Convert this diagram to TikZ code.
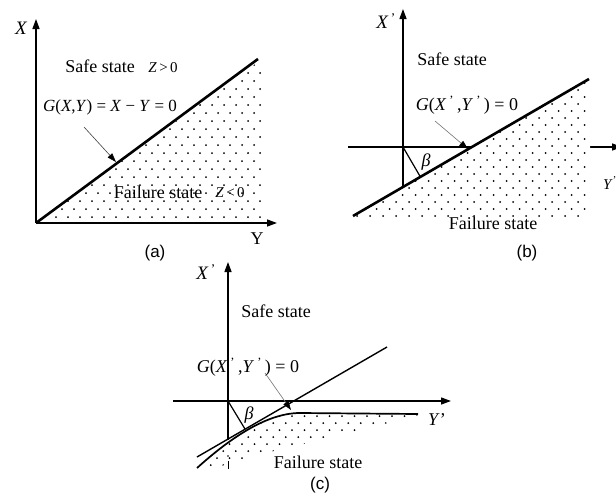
\documentclass[tikz,border=0pt]{standalone}
\usepackage{fontspec}
\setmainfont{Liberation Serif}
\newfontfamily\capfont{Liberation Sans}
\usetikzlibrary{arrows.meta}
\begin{document}
\begin{tikzpicture}[x=1pt,y=-1pt,
  axis/.style={line width=1.3pt,-{Triangle[length=10pt,width=7pt]}},
  bound/.style={line width=2.6pt},
  thinln/.style={line width=1.2pt},
  lead/.style={line width=0.6pt,draw=black!55,-{Triangle[length=9pt,width=6pt,color=black]}},
  lbl/.style={font=\fontsize{18}{20}\selectfont,inner sep=0pt},
  glbl/.style={font=\fontsize{17}{20}\selectfont,inner sep=0pt},
  zlbl/.style={font=\fontsize{15}{18}\selectfont,inner sep=0pt},
  captxt/.style={font=\capfont\fontsize{17}{20}\selectfont,inner sep=0pt},
  dot/.style={fill=black}
]
\useasboundingbox (0,0) rectangle (616,498);

% ---------------- panel (a) ----------------
\coordinate (aO) at (36,223);
\coordinate (aXt) at (36,19);
\coordinate (aYt) at (277,223);
\coordinate (aE) at (258,59);
\begin{scope}
  \clip (40,220) -- (258,62) -- (262,62) -- (262,220) -- cycle;
  \foreach \j in {0,...,21} \foreach \i in {0,...,19}
    \fill[dot] ({44+12*\i+6*mod(\j,2)},{217-8*\j}) circle[radius=1pt];
\end{scope}
\draw[axis] (aO) -- (aXt);
\draw[axis] (aO) -- (aYt);
\draw[bound] (aO) -- (aE);
\coordinate (aLs) at (84,127);
\coordinate (aLe) at (116,162);
\draw[lead,draw=black!75] (aLs) -- (aLe);
\node[lbl,font=\fontsize{19}{20}\selectfont\itshape] (aX) at (21,28) {X};
\node[lbl] (aY) at (257,239) {Y};
\node[lbl] (aSafe) at (100,66) {Safe state};
\node[zlbl] (aZp) at (163,68) {\textit{Z}\,>\,0};
\node[glbl] (aG) at (110,107) {\textit{G}(\textit{X},\textit{Y}) = \textit{X} − \textit{Y} = 0};
\node[lbl] (aFail) at (158,192) {Failure state};
\node[zlbl] (aZn) at (230,193) {\textit{Z}\,<\,0};
\node[captxt] (aCap) at (155,253) {(a)};

% ---------------- panel (b) ----------------
\coordinate (bO) at (403,147);
\coordinate (bXb) at (403,190);
\coordinate (bXt) at (403,9);
\coordinate (bHl) at (348,147);
\coordinate (bHr) at (622,147);
\coordinate (bHa) at (610,147);
\coordinate (bL1) at (353,216);
\coordinate (bL2) at (589,79);
\coordinate (bF) at (420.4,176.9);
\draw[line width=1.3pt] (bHl) -- (bHa);
\draw[axis] (bHa) -- (bHr);
\draw[axis] (bXb) -- (bXt);
\fill[white] (bL1) -- (bL2) -- (590,79) -- (590,222) -- (353,222) -- cycle;
\begin{scope}
  \clip (bL1) -- (bL2) -- (590,79) -- (590,219) -- (353,219) -- cycle;
  \foreach \j in {0,...,19} \foreach \i in {0,...,18}
    \fill[dot] ({357+13*\i+6.5*mod(\j,2)},{216-7*\j}) circle[radius=1pt];
\end{scope}
\draw[bound] (bL1) -- (bL2);
\draw[thinln] (bO) -- (bF);
\coordinate (bLs) at (435,121);
\coordinate (bLe) at (468,149);
\draw[lead] (bLs) -- (bLe);
\node[lbl,font=\fontsize{19}{20}\selectfont] (bX) at (386,21) {\textit{X}\textsuperscript{\,'}};
\node[lbl] (bSafe) at (452,59) {Safe state};
\node[lbl] (bG) at (467,105) {\textit{G}(\textit{X}\,\textsuperscript{'}\,,\textit{Y}\,\textsuperscript{'}\,) = 0};
\node[lbl] (bBeta) at (426,162) {\textit{β}};
\node[zlbl] (bY) at (610,183) {\textit{Y}\textsuperscript{'}};
\node[lbl] (bFail) at (493,223) {Failure state};
\node[captxt] (bCap) at (527,253) {(b)};

% ---------------- panel (c) ----------------
\coordinate (cO) at (228,401);
\coordinate (cXb) at (228,440);
\coordinate (cXt) at (228,262);
\coordinate (cHl) at (173,401);
\coordinate (cHr) at (451,401);
\coordinate (cC0) at (197,468);
\coordinate (cC1) at (300,413);
\coordinate (cC2) at (418,414);
\coordinate (cT1) at (197,457);
\coordinate (cT2) at (387,347);
\coordinate (cF) at (245,429);
\begin{scope}
  \clip (cC0) .. controls (227,441) and (265,413) .. (cC1) -- (cC2) -- (424,414)
        -- (380,425) -- (357,431) -- (325,438) -- (300,445) -- (265,453) -- (243,460) -- (210,469) -- (197,470) -- cycle;
  \foreach \j in {0,...,9} \foreach \i in {0,...,19}
    \fill[dot] ({192+12.5*\i+6.25*mod(\j,2)},{416+7*\j}) circle[radius=1pt];
\end{scope}
\draw[axis] (cXb) -- (cXt);
\draw[axis] (cHl) -- (cHr);
\draw[line width=1.7pt] (cC0) .. controls (227,441) and (265,413) .. (cC1) -- (cC2);
\draw[thinln,line width=1.4pt] (cT1) -- (cT2);
\draw[thinln] (cO) -- (cF);
\coordinate (cLs) at (265,373);
\coordinate (cLe) at (291,410);
\draw[lead] (cLs) -- (cLe);
\coordinate (cI1) at (228,461);
\coordinate (cI2) at (228,469);
\draw[line width=1pt] (cI1) -- (cI2);
\fill (228,456) circle[radius=0.9pt];
\node[lbl,font=\fontsize{19}{20}\selectfont] (cX) at (206,272) {\textit{X}\textsuperscript{\,'}};
\node[lbl] (cSafe) at (276,311) {Safe state};
\node[lbl] (cG) at (248,367) {\textit{G}(\textit{X}\,\textsuperscript{'}\,,\textit{Y}\,\textsuperscript{'}\,) = 0};
\node[lbl] (cBeta) at (249,415) {\textit{β}};
\node[lbl] (cY) at (437,420) {\textit{Y}'};
\node[lbl] (cFail) at (318,462) {Failure state};
\node[captxt] (cCap) at (320,485) {(c)};
\end{tikzpicture}
\end{document}
